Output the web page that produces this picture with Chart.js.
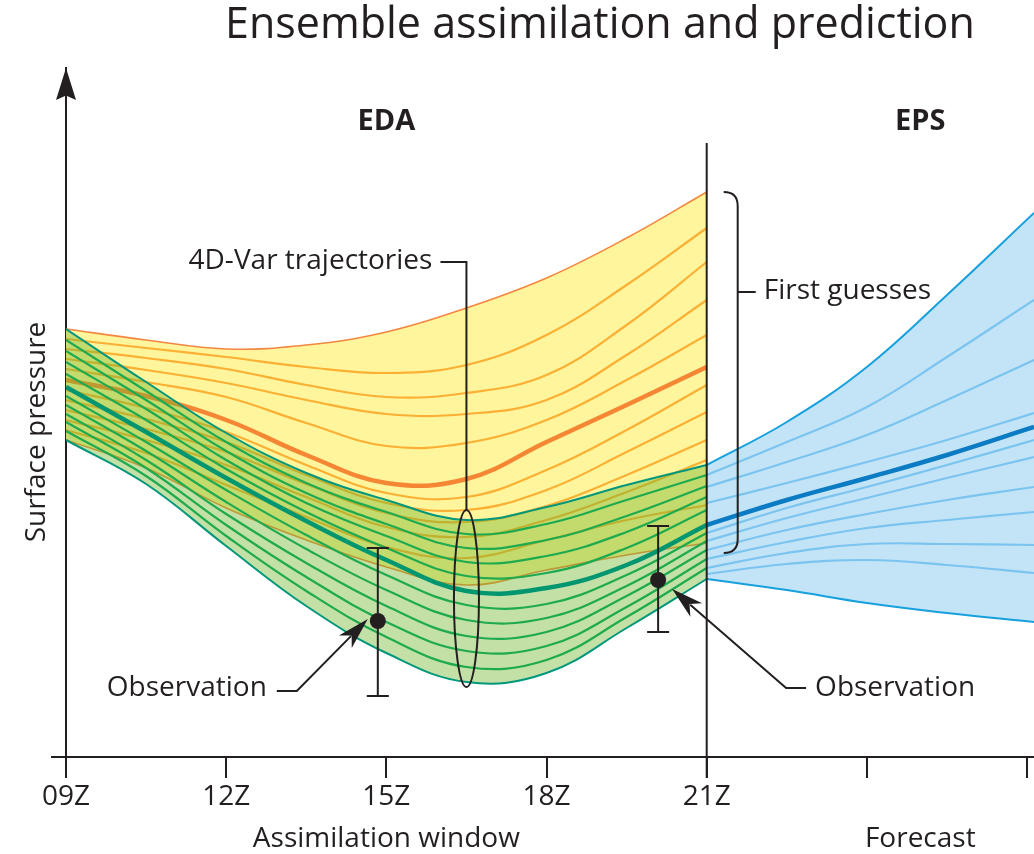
<!DOCTYPE html>
<html>
<head>
<meta charset="utf-8">
<title>Ensemble assimilation and prediction</title>
<script src="https://cdn.jsdelivr.net/npm/chart.js@4.4.1/dist/chart.umd.min.js"></script>
<style>
    html, body { margin: 0; padding: 0; background: #ffffff; }
    #chart { display: block; }
</style>
</head>
<body>
<canvas id="chart" width="1034" height="854"></canvas>
<script>
// Hours (UTC) where the trajectories are sampled
const windowHours = [9, 10.5, 12, 13.5, 15, 16.5, 18, 19.5, 21];
const forecastHours = [21, 22.5, 24, 25.5, 27.13];

// Axis ticks
const tickHours = [9, 12, 15, 18, 21, 24, 27];
const tickLabels = ['09Z', '12Z', '15Z', '18Z', '21Z', '', ''];

// First guesses (orange), top to bottom, surface pressure in arbitrary units
const firstGuesses = [
    [428, 417, 408, 412, 425, 449, 479, 519, 565],
    [418, 409, 400, 390, 384, 392, 422, 472, 529],
    [408, 399, 388, 372, 360, 364, 382, 432, 495],
    [398, 387, 374, 357, 343, 343, 357, 402, 457],
    [388, 375, 360, 334, 311, 314, 337, 377, 422],
    [377, 361, 337, 302, 274, 278, 315, 352, 390],
    [367, 349, 325, 292, 264, 260, 287, 327, 372],
    [357, 338, 315, 282, 254, 247, 267, 305, 345],
    [347, 328, 305, 273, 244, 235, 251, 282, 317],
    [337, 317, 292, 260, 230, 220, 237, 265, 297],
    [327, 304, 272, 240, 210, 199, 217, 237, 252],
    [317, 289, 249, 217, 190, 172, 187, 202, 214]
];
const firstGuessMean = 5;

// 4D-Var analysis trajectories (green), top to bottom
const analyses = [
    [428, 375, 324, 284, 257, 237, 250, 272, 292],
    [417, 366, 315, 274, 245, 223, 233, 257, 282],
    [406, 357, 306, 264, 233, 209, 217, 241, 271],
    [395, 348, 297, 254, 221, 195, 201, 225, 260],
    [383, 337, 288, 245, 209, 181, 184, 209, 247],
    [370, 325, 279, 236, 197, 166, 169, 192, 232],
    [361, 315, 267, 222, 182, 152, 153, 182, 224],
    [352, 306, 255, 208, 167, 137, 139, 171, 216],
    [343, 297, 243, 194, 151, 121, 125, 161, 207],
    [335, 289, 232, 180, 135, 106, 111, 150, 198],
    [326, 281, 221, 166, 120, 90, 97, 140, 189],
    [317, 273, 211, 151, 104, 75, 84, 129, 178]
];
const analysisMean = 5;

// EPS forecast members (blue), top to bottom
const forecasts = [
    [292, 335, 390, 462, 544],
    [282, 315, 350, 400, 457],
    [270, 295, 322, 357, 397],
    [254, 274, 295, 317, 344],
    [232, 257, 279, 302, 330],
    [224, 249, 270, 292, 317],
    [216, 239, 259, 279, 300],
    [207, 227, 243, 257, 270],
    [198, 215, 229, 237, 245],
    [189, 204, 213, 213, 212],
    [183, 193, 197, 192, 184],
    [178, 167, 154, 144, 135]
];
const forecastMean = 4;

// Observations with their error bars
const obsHours = [14.84, 20.09];
const obsValues = [136, 177];
const obsErrorLow = [61, 125];
const obsErrorHigh = [209, 231];

const INK = '#231f20';
const FONT = '"Open Sans", "Noto Sans", sans-serif';

function toPoints(hours, values) {
    return values.map((v, i) => ({ x: hours[i], y: v }));
}

/**
 * Build one family of trajectories; the last member carries the band fill
 */
function buildFamily(series, hours, meanIndex, style, firstIndex) {
    const last = series.length - 1;
    return series.map((values, i) => {
        const isEdge = i === 0 || i === last;
        const isMean = i === meanIndex;
        return {
            label: style.name + ' ' + (i + 1),
            data: toPoints(hours, values),
            borderColor: isMean ? style.mean : (isEdge ? style.edge : style.thin),
            borderWidth: isMean ? 4.5 : (isEdge ? style.edgeWidth : 2.2),
            backgroundColor: style.fill,
            fill: i === last ? firstIndex : false,
            tension: 0.4,
            pointRadius: 0,
            order: i === last ? style.order + 10 : (isMean ? style.order - 1 : style.order)
        };
    });
}

const datasets = [];
datasets.push(...buildFamily(firstGuesses, windowHours, firstGuessMean, {
    name: 'First guess', thin: '#fbb034', edge: '#f4873f', mean: '#f58634',
    edgeWidth: 1.6, fill: '#fff59c', order: 90
}, 0));
datasets.push(...buildFamily(analyses, windowHours, analysisMean, {
    name: 'Analysis', thin: '#1eaa4f', edge: '#00977a', mean: '#009670',
    edgeWidth: 2, fill: 'rgba(110, 179, 41, 0.41)', order: 70
}, firstGuesses.length));
datasets.push(...buildFamily(forecasts, forecastHours, forecastMean, {
    name: 'Forecast', thin: 'rgba(110, 190, 238, 0.85)', edge: '#17a0de', mean: '#0b7cc3',
    edgeWidth: 2, fill: '#c3e4f7', order: 50
}, firstGuesses.length + analyses.length));
datasets.push({
    label: 'Observation',
    data: toPoints(obsHours, obsValues),
    showLine: false,
    pointRadius: 8,
    pointBorderWidth: 0,
    pointBackgroundColor: INK,
    order: 0
});

function strokeLine(ctx, x1, y1, x2, y2) {
    ctx.beginPath();
    ctx.moveTo(x1, y1);
    ctx.lineTo(x2, y2);
    ctx.stroke();
}

// Filled arrow head with a notched base, (ux, uy) points towards the tip
function arrowHead(ctx, tx, ty, ux, uy, len, half, notch) {
    const nx = -uy, ny = ux;
    const bx = tx - ux * len, by = ty - uy * len;
    ctx.beginPath();
    ctx.moveTo(tx, ty);
    ctx.lineTo(bx + nx * half, by + ny * half);
    ctx.lineTo(tx - ux * len * notch, ty - uy * len * notch);
    ctx.lineTo(bx - nx * half, by - ny * half);
    ctx.closePath();
    ctx.fill();
}

// Leader from a label to an observation, ending in an arrow
function pointer(ctx, tail, tip, stubDir) {
    const dx = tip.x - tail.x, dy = tip.y - tail.y;
    const d = Math.hypot(dx, dy);
    const ux = dx / d, uy = dy / d;
    ctx.beginPath();
    ctx.moveTo(tail.x + stubDir * 20, tail.y);
    ctx.lineTo(tail.x, tail.y);
    ctx.lineTo(tip.x - ux * 24, tip.y - uy * 24);
    ctx.stroke();
    arrowHead(ctx, tip.x, tip.y, ux, uy, 32, 9, 0.72);
}

function text(ctx, str, x, y, size, align, weight) {
    ctx.font = (weight || 'normal') + ' ' + size + 'px ' + FONT;
    ctx.textAlign = align || 'center';
    ctx.textBaseline = 'middle';
    ctx.fillText(str, x, y);
}

// Axis extras, brackets, leaders and labels of the diagram
const diagramPlugin = {
    id: 'diagram',
    afterDatasetsDraw(chart) {
        const { ctx, scales } = chart;
        const px = h => scales.x.getPixelForValue(h);
        const py = v => scales.y.getPixelForValue(v);
        ctx.save();
        ctx.strokeStyle = INK;
        ctx.lineWidth = 2;
        obsHours.forEach((h, i) => {
            const x = px(h);
            strokeLine(ctx, x, py(obsErrorLow[i]), x, py(obsErrorHigh[i]));
            strokeLine(ctx, x - 11, py(obsErrorLow[i]), x + 11, py(obsErrorLow[i]));
            strokeLine(ctx, x - 11, py(obsErrorHigh[i]), x + 11, py(obsErrorHigh[i]));
        });
        ctx.restore();
    },
    afterDraw(chart) {
        const { ctx, chartArea: area, scales } = chart;
        const px = h => scales.x.getPixelForValue(h);
        const py = v => scales.y.getPixelForValue(v);
        ctx.save();
        ctx.strokeStyle = INK;
        ctx.fillStyle = INK;
        ctx.lineWidth = 2;

        // x axis runs a little past the y axis, y axis ends in an arrow
        strokeLine(ctx, area.left - 15, area.bottom, area.left, area.bottom);
        arrowHead(ctx, area.left, area.top, 0, -1, 32, 10, 0.86);

        // end of the assimilation window
        strokeLine(ctx, px(21), py(614), px(21), area.bottom + 21);

        // 4D-Var trajectories: ellipse and leader
        const ex = px(16.5);
        const eTop = py(247), eBottom = py(70);
        ctx.beginPath();
        ctx.ellipse(ex, (eTop + eBottom) / 2, 12.5, (eBottom - eTop) / 2, 0, 0, Math.PI * 2);
        ctx.stroke();
        ctx.beginPath();
        ctx.moveTo(ex - 26, py(495));
        ctx.lineTo(ex, py(495));
        ctx.lineTo(ex, eTop);
        ctx.stroke();
        text(ctx, '4D-Var trajectories', ex - 34, py(496), 28, 'right');

        // First guesses bracket
        const bx = px(21) + 17, spine = px(21) + 31;
        const bTop = py(565), bBottom = py(204), r = 14;
        ctx.beginPath();
        ctx.moveTo(bx, bTop);
        ctx.quadraticCurveTo(spine, bTop, spine, bTop + r);
        ctx.lineTo(spine, bBottom - r);
        ctx.quadraticCurveTo(spine, bBottom, bx, bBottom);
        ctx.moveTo(spine, py(465));
        ctx.lineTo(spine + 18, py(465));
        ctx.stroke();
        text(ctx, 'First guesses', spine + 26, py(466), 28, 'left');

        // Observation pointers
        const o1 = { x: px(obsHours[0]), y: py(obsValues[0]) };
        const o2 = { x: px(obsHours[1]), y: py(obsValues[1]) };
        pointer(ctx, { x: o1.x - 81, y: o1.y + 70 }, { x: o1.x - 10, y: o1.y - 2 }, -1);
        text(ctx, 'Observation', o1.x - 111, o1.y + 67, 28, 'right');
        pointer(ctx, { x: o2.x + 128, y: o2.y + 108 }, { x: o2.x + 14, y: o2.y + 9 }, 1);
        text(ctx, 'Observation', o2.x + 157, o2.y + 108, 28, 'left');

        // Titles and section labels
        text(ctx, 'Ensemble assimilation and prediction', px(19), 26, 43);
        text(ctx, 'EDA', px(15), 122, 29, 'center', 'bold');
        text(ctx, 'EPS', px(25), 122, 29, 'center', 'bold');
        text(ctx, 'Assimilation window', px(15), 839, 28);
        text(ctx, 'Forecast', px(25), 839, 28);

        ctx.translate(area.left - 29, py(325));
        ctx.rotate(-Math.PI / 2);
        text(ctx, 'Surface pressure', 0, 0, 28);
        ctx.restore();
    }
};

new Chart(document.getElementById('chart'), {
    type: 'line',
    data: { datasets: datasets },
    options: {
        responsive: false,
        animation: false,
        devicePixelRatio: 1,
        layout: { autoPadding: false, padding: { top: 68, left: 0, right: 0, bottom: 0 } },
        plugins: {
            legend: { display: false },
            tooltip: { enabled: false },
            title: { display: false }
        },
        scales: {
            x: {
                type: 'linear',
                min: 9,
                max: 27.13,
                z: 1,
                afterBuildTicks: (scale) => {
                    scale.ticks = tickHours.map(v => ({ value: v }));
                },
                afterFit: (scale) => {
                    scale.height = 97;
                    scale.paddingLeft = 0;
                    scale.paddingRight = 0;
                },
                ticks: {
                    callback: (value, index) => tickLabels[index],
                    color: INK,
                    font: { family: FONT, size: 28 },
                    padding: 2,
                    maxRotation: 0,
                    autoSkip: false
                },
                grid: {
                    drawOnChartArea: false,
                    drawTicks: true,
                    tickLength: 21,
                    color: INK,
                    lineWidth: 2
                },
                border: { display: true, color: INK, width: 2 }
            },
            y: {
                type: 'linear',
                min: 0,
                max: 689,
                z: 1,
                afterFit: (scale) => { scale.width = 66; },
                ticks: { display: false },
                grid: { display: false },
                border: { display: true, color: INK, width: 2 }
            }
        }
    },
    plugins: [diagramPlugin]
});
</script>
</body>
</html>
